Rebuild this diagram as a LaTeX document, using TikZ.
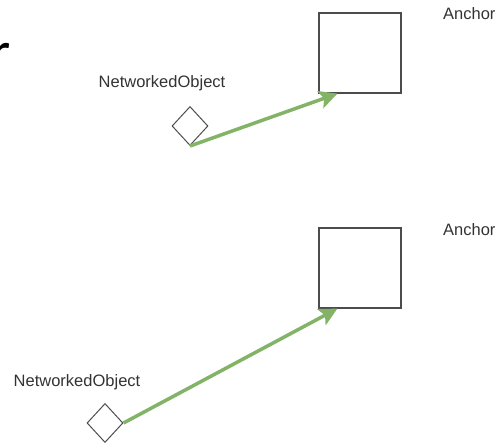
\documentclass[tikz,border=0pt]{standalone}
\usepackage{fontspec}
\setmainfont{Liberation Sans}
\newfontfamily\fragfont{Carlito}
\usetikzlibrary{shapes.geometric,arrows.meta}
\definecolor{linkgreen}{HTML}{82B366}
\tikzset{>={Stealth[length=18pt,width=18pt,inset=4pt]}}

\begin{document}
\begin{tikzpicture}[x=1pt,y=-1pt,
    box/.style={draw=black!70,line width=1.2pt,minimum width=82pt,minimum height=80pt,inner sep=0pt},
    obj/.style={diamond,draw=black!70,line width=1pt,minimum width=36pt,minimum height=39pt,inner sep=0pt},
    lbl/.style={font=\fontsize{16.5}{18}\selectfont,text=black!80,inner sep=0pt},
    link/.style={->,draw=linkgreen,line width=3.5pt}]
  \useasboundingbox (0,0) rectangle (495,443);
  \node[anchor=base east,font=\fragfont\fontsize{58}{60}\selectfont,inner sep=0pt] (frag) at (11,72) {r};
  % upper pair
  \node[box] (anchor1) at (360,53) {};
  \node[lbl,anchor=west] (anchorlbl1) at (443,14) {Anchor};
  \node[obj] (obj1) at (190,126) {};
  \node[lbl] (objlbl1) at (162,83) {NetworkedObject};
  \coordinate (tip1) at ([xshift=19pt]anchor1.south west);
  \draw[link] (obj1.south) -- (tip1);
  % lower pair
  \node[box] (anchor2) at (360,268) {};
  \node[lbl,anchor=west] (anchorlbl2) at (443,230) {Anchor};
  \node[obj] (obj2) at (105,423) {};
  \node[lbl] (objlbl2) at (77,382) {NetworkedObject};
  \coordinate (tip2) at ([xshift=19pt]anchor2.south west);
  \draw[link] (obj2.east) -- (tip2);
\end{tikzpicture}
\end{document}
